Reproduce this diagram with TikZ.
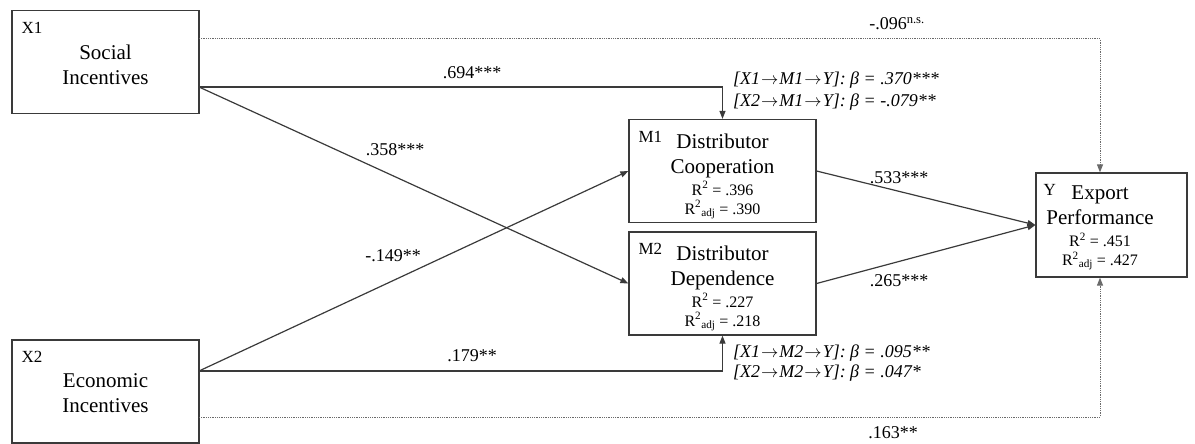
\documentclass[tikz,border=0pt]{standalone}
\usepackage{fontspec}
\setmainfont{Liberation Serif}
\usetikzlibrary{arrows.meta,positioning}
\definecolor{boxgray}{HTML}{3A3A3A}
\definecolor{dotgray}{HTML}{6A6A6A}
\newcommand{\namefont}{\fontsize{21}{25}\selectfont}
\newcommand{\rsqfont}{\fontsize{16}{19}\selectfont}
\newcommand{\tagfont}{\fontsize{17}{20}\selectfont}
\newcommand{\coeffont}{\fontsize{18}{21}\selectfont}
\newcommand{\rsq}{R\textsuperscript{2}}
\newcommand{\rsqadj}{R\textsuperscript{2}\textsubscript{adj}}
\newcommand{\pth}{\kern1pt$\rightarrow$\kern1pt}
\newcommand{\topstrut}[1]{\rule{0pt}{#1}}
\tikzset{
  vbox/.style={draw=boxgray,line width=1.2pt,minimum width=187pt,minimum height=103pt,inner sep=0pt,align=center,font=\namefont},
  vtag/.style={inner sep=0pt,font=\tagfont},
  coef/.style={inner sep=0pt,font=\coeffont},
  ind/.style={inner sep=0pt,anchor=west,font=\coeffont\itshape},
  pe/.style={-{Triangle[length=8pt,width=6pt]},line width=1.2pt,draw=boxgray},
  dpe/.style={-{Triangle[length=8pt,width=6pt]},line width=1pt,draw=dotgray,dash pattern=on 1pt off 0.8pt}
}

\begin{document}
\begin{tikzpicture}[x=1pt,y=-1pt]
\useasboundingbox (0,0) rectangle (1195,444);
\node[vbox] (X1) at (105.5,62) {\topstrut{21pt}Social\\Incentives};
\node[vbox] (X2) at (105.5,391.5) {\topstrut{18pt}Economic\\Incentives};
\node[vbox] (M1) at (722.5,171) {\topstrut{25pt}Distributor\\Cooperation\\[-3pt]\rsqfont \rsq{} = .396\\[-6pt]\rsqfont \rsqadj{} = .390};
\node[vbox] (M2) at (722.5,283.5) {\topstrut{24pt}Distributor\\Dependence\\[-3pt]\rsqfont \rsq{} = .227\\[-6pt]\rsqfont \rsqadj{} = .218};
\node[vbox,minimum width=151pt,minimum height=104pt] (Y) at (1111.5,225) {};
\node[inner sep=0pt,align=center,font=\namefont] (Ytext) at (1100,228) {Export\\Performance\\[-3pt]\rsqfont \rsq{} = .451\\[-6pt]\rsqfont \rsqadj{} = .427};
\node[vtag,below right=12pt and 10pt of X1.north west] (X1tag) {X1};
\node[vtag,below right=12pt and 10pt of X2.north west] (X2tag) {X2};
\node[vtag,below right=12pt and 10pt of M1.north west] (M1tag) {M1};
\node[vtag,below right=12pt and 10pt of M2.north west] (M2tag) {M2};
\node[vtag,below right=12pt and 8pt of Y.north west] (Ytag) {Y};
% paths
\coordinate (X1o) at (199,87);
\coordinate (X2o) at (199,371);
\coordinate (X1d) at (199,39);
\coordinate (X2d) at (199,417);
\draw[pe] (X1o) -| (M1.north);
\draw[pe] (X1o) -- (M2.west);
\draw[pe] (X2o) -- (M1.west);
\draw[pe] (X2o) -| (M2.south);
\draw[pe] (M1.east) -- (Y.west);
\draw[pe] (M2.east) -- (Y.west);
\draw[dpe] (X1d) -| ([xshift=-11.5pt]Y.north);
\draw[dpe] (X2d) -| ([xshift=-11.5pt]Y.south);
% coefficients
\node[coef] (c694) at (472,73) {.694***};
\node[coef] (c358) at (395,150) {.358***};
\node[coef] (c149) at (393,256) {-.149**};
\node[coef] (c179) at (472,356) {.179**};
\node[coef] (c533) at (899,178) {.533***};
\node[coef] (c265) at (899,281) {.265***};
\node[coef] (c096) at (897,24) {-.096\textsuperscript{n.s.}};
\node[coef] (c163) at (893,433) {.163**};
% indirect effects
\node[ind] (i11) at (733,80) {[X1\pth M1\pth Y]: β = .370***};
\node[ind] (i21) at (733,102) {[X2\pth M1\pth Y]: β = -.079**};
\node[ind] (i12) at (733,353) {[X1\pth M2\pth Y]: β = .095**};
\node[ind] (i22) at (733,373) {[X2\pth M2\pth Y]: β = .047*};
\end{tikzpicture}
\end{document}
